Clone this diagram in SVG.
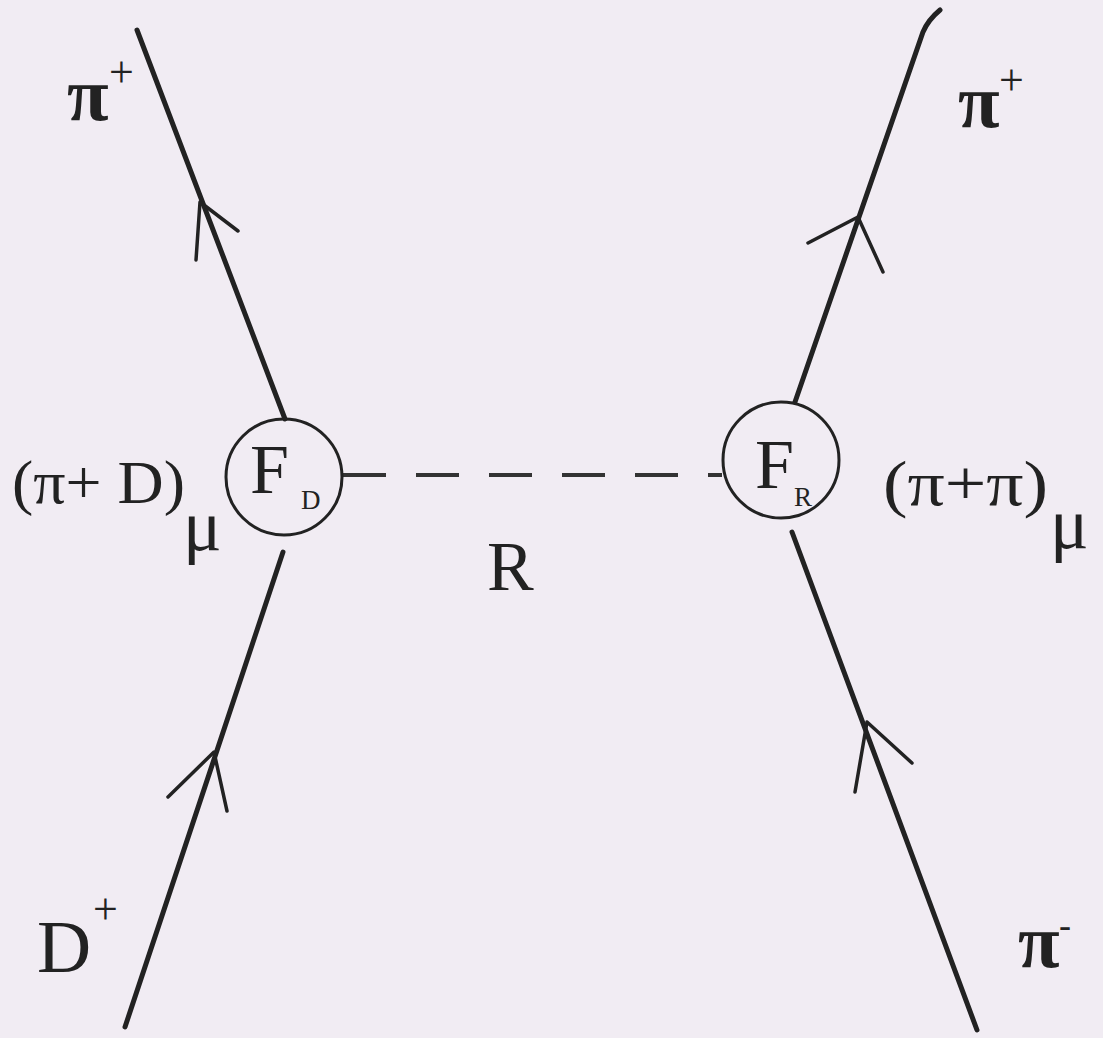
<svg xmlns="http://www.w3.org/2000/svg" width="1103" height="1038" viewBox="0 0 1103 1038">
<style>
.ln{stroke:#222;stroke-width:5;fill:none;stroke-linecap:round}
.ar{stroke:#222;stroke-width:3.5;fill:none;stroke-linecap:round;stroke-linejoin:round}
.cir{stroke:#222;stroke-width:3;fill:none}
.dash{stroke:#333;stroke-width:4;fill:none;stroke-dasharray:43 30}
text{font-family:"Liberation Serif","Times New Roman",serif;fill:#222}
</style>
<rect width="1103" height="1038" fill="#f1ecf3"/>
<g id="connectors">
  <path class="ln" d="M137,30 L285,419"/>
  <path class="ar" d="M196,260 L200,202 L238,231"/>
  <path class="ln" d="M283,552 L125,1027"/>
  <path class="ar" d="M168,797 L214,752 L227,811"/>
  <path class="ln" d="M940,10 Q928,20 923,32 L795,402"/>
  <path class="ar" d="M808,243 L858,217 L883,272"/>
  <path class="ln" d="M792,532 L977,1030"/>
  <path class="ar" d="M855,792 L867,722 L912,763"/>
  <path class="dash" d="M343,475 L722,475"/>
</g>
<g id="node-FD">
  <circle class="cir" cx="284" cy="477" r="58"/>
  <text x="250" y="493" font-size="70">F</text>
  <text x="301" y="509" font-size="27">D</text>
</g>
<g id="node-FR">
  <circle class="cir" cx="781" cy="460" r="58"/>
  <text x="755" y="488" font-size="70">F</text>
  <text x="794" y="506" font-size="27">R</text>
</g>
<g id="labels">
  <text x="67" y="120" font-size="76" font-weight="bold">π</text>
  <text x="109" y="87" font-size="44">+</text>
  <text x="958" y="127" font-size="76" font-weight="bold">π</text>
  <text x="999" y="95" font-size="44">+</text>
  <text x="37" y="972" font-size="75">D</text>
  <text x="93" y="924" font-size="44">+</text>
  <text x="1018" y="967" font-size="76" font-weight="bold">π</text>
  <text x="1059" y="937" font-size="36">-</text>
  <text x="12" y="503" font-size="62" textLength="173" lengthAdjust="spacingAndGlyphs">(π+ D)</text>
  <text x="183" y="550" font-size="72">μ</text>
  <text x="883" y="505" font-size="64" textLength="165" lengthAdjust="spacingAndGlyphs">(π+π)</text>
  <text x="1050" y="548" font-size="72">μ</text>
  <text x="487" y="590" font-size="70">R</text>
</g>
</svg>
